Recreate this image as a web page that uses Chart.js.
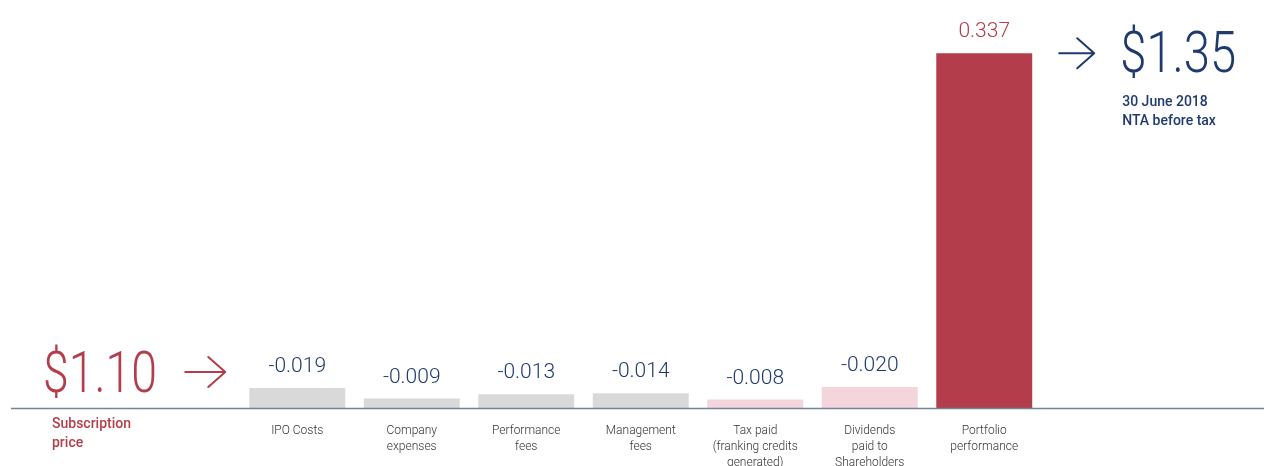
<!DOCTYPE html>
<html>
<head>
<meta charset="utf-8">
<script src="https://cdn.jsdelivr.net/npm/chart.js@4.4.0/dist/chart.umd.min.js"></script>
<style>
  html, body { margin: 0; padding: 0; background: #fff; }
  #wrap { width: 1264px; height: 466px; position: relative; }
</style>
</head>
<body>
<div id="wrap"><canvas id="chart"></canvas></div>
<script>
// categories (first two and last are empty slots for the start / end annotations)
const categories = ['', '', 'IPO Costs', ['Company', 'expenses'], ['Performance', 'fees'], ['Management', 'fees'],
  ['Tax paid', '(franking credits', 'generated)'], ['Dividends', 'paid to', 'Shareholders'], ['Portfolio', 'performance'], ''];
const changes = [null, null, -0.019, -0.009, -0.013, -0.014, -0.008, -0.020, 0.337, null];
const barColors = [null, null, '#d9d9d9', '#d9d9d9', '#d9d9d9', '#d9d9d9', '#f3d5db', '#f3d5db', '#b43d4c', null];
const startValue = '$1.10';
const startLabel = ['Subscription', 'price'];
const endValue = '$1.35';
const endLabel = ['30 June 2018', 'NTA before tax'];

const RED = '#b43d4c';
const NAVY = '#1f3a6f';
const FONT = 'Roboto, "Noto Sans", sans-serif';

Chart.defaults.font.family = FONT;

// value labels over the bars
const valueLabels = {
  id: 'valueLabels',
  afterDatasetsDraw(chart) {
    const ctx = chart.ctx;
    const meta = chart.getDatasetMeta(0);
    ctx.save();
    ctx.font = '300 21px ' + FONT;
    ctx.textAlign = 'center';
    ctx.textBaseline = 'alphabetic';
    meta.data.forEach((bar, i) => {
      const v = changes[i];
      if (v === null) return;
      ctx.fillStyle = v < 0 ? NAVY : RED;
      ctx.fillText(v.toFixed(3), bar.x, bar.y - 16);
    });
    ctx.restore();
  }
};

// baseline across the whole width
const baseline = {
  id: 'baseline',
  afterDatasetsDraw(chart) {
    const ctx = chart.ctx;
    const y0 = chart.scales.y.getPixelForValue(0);
    ctx.save();
    ctx.strokeStyle = '#72839b';
    ctx.lineWidth = 1.5;
    ctx.beginPath();
    ctx.moveTo(chart.chartArea.left, y0 + 0.5);
    ctx.lineTo(chart.width, y0 + 0.5);
    ctx.stroke();
    ctx.restore();
  }
};

function drawArrow(ctx, x1, x2, y, color) {
  ctx.save();
  ctx.strokeStyle = color;
  ctx.lineWidth = 2;
  ctx.lineCap = 'round';
  ctx.lineJoin = 'round';
  ctx.beginPath();
  ctx.moveTo(x1, y);
  ctx.lineTo(x2, y);
  ctx.moveTo(x2 - 17, y - 15);
  ctx.lineTo(x2, y);
  ctx.lineTo(x2 - 17, y + 15);
  ctx.stroke();
  ctx.restore();
}

// start / end annotations
const annotations = {
  id: 'annotations',
  afterDraw(chart) {
    const ctx = chart.ctx;
    const y0 = chart.scales.y.getPixelForValue(0);
    const firstBar = chart.getDatasetMeta(0).data[2];
    const lastBar = chart.getDatasetMeta(0).data[8];
    const barLeft = firstBar.x - firstBar.width / 2;
    const lastRight = lastBar.x + lastBar.width / 2;

    ctx.save();
    // start value
    ctx.fillStyle = RED;
    ctx.font = '300 58px ' + FONT;
    ctx.textAlign = 'left';
    ctx.textBaseline = 'alphabetic';
    ctx.fillText(startValue, chart.chartArea.left + 32, y0 - 16, 114);
    drawArrow(ctx, barLeft - 64, barLeft - 24, y0 - 36, RED);
    ctx.font = '500 14px ' + FONT;
    ctx.fillText(startLabel[0], chart.chartArea.left + 41, y0 + 20);
    ctx.fillText(startLabel[1], chart.chartArea.left + 41, y0 + 39);

    // end value
    const top = lastBar.y;
    drawArrow(ctx, lastRight + 27, lastRight + 62, top, NAVY);
    ctx.fillStyle = NAVY;
    ctx.font = '300 58px ' + FONT;
    ctx.fillText(endValue, lastRight + 88, top + 19, 116);
    ctx.font = '500 14px ' + FONT;
    ctx.fillText(endLabel[0], lastRight + 90, top + 53);
    ctx.fillText(endLabel[1], lastRight + 90, top + 72);
    ctx.restore();
  }
};

new Chart(document.getElementById('chart'), {
  type: 'bar',
  data: {
    labels: categories,
    datasets: [{
      data: changes.map(v => v === null ? null : Math.abs(v)),
      backgroundColor: barColors,
      borderWidth: 0,
      barPercentage: 0.838,
      categoryPercentage: 1
    }]
  },
  options: {
    responsive: true,
    maintainAspectRatio: false,
    animation: false,
    layout: { padding: { left: 11, right: 108, top: 8, bottom: 0 } },
    plugins: {
      legend: { display: false },
      tooltip: { enabled: false }
    },
    scales: {
      x: {
        grid: { display: false, drawTicks: false },
        border: { display: false },
        ticks: {
          color: '#333333',
          font: { size: 12, weight: 300, lineHeight: 1.33 },
          padding: 15,
          maxRotation: 0,
          autoSkip: false
        },
        afterFit(scale) { scale.height = 58; }
      },
      y: {
        display: false,
        min: 0,
        max: 0.38
      }
    }
  },
  plugins: [valueLabels, baseline, annotations]
});
</script>
</body>
</html>
